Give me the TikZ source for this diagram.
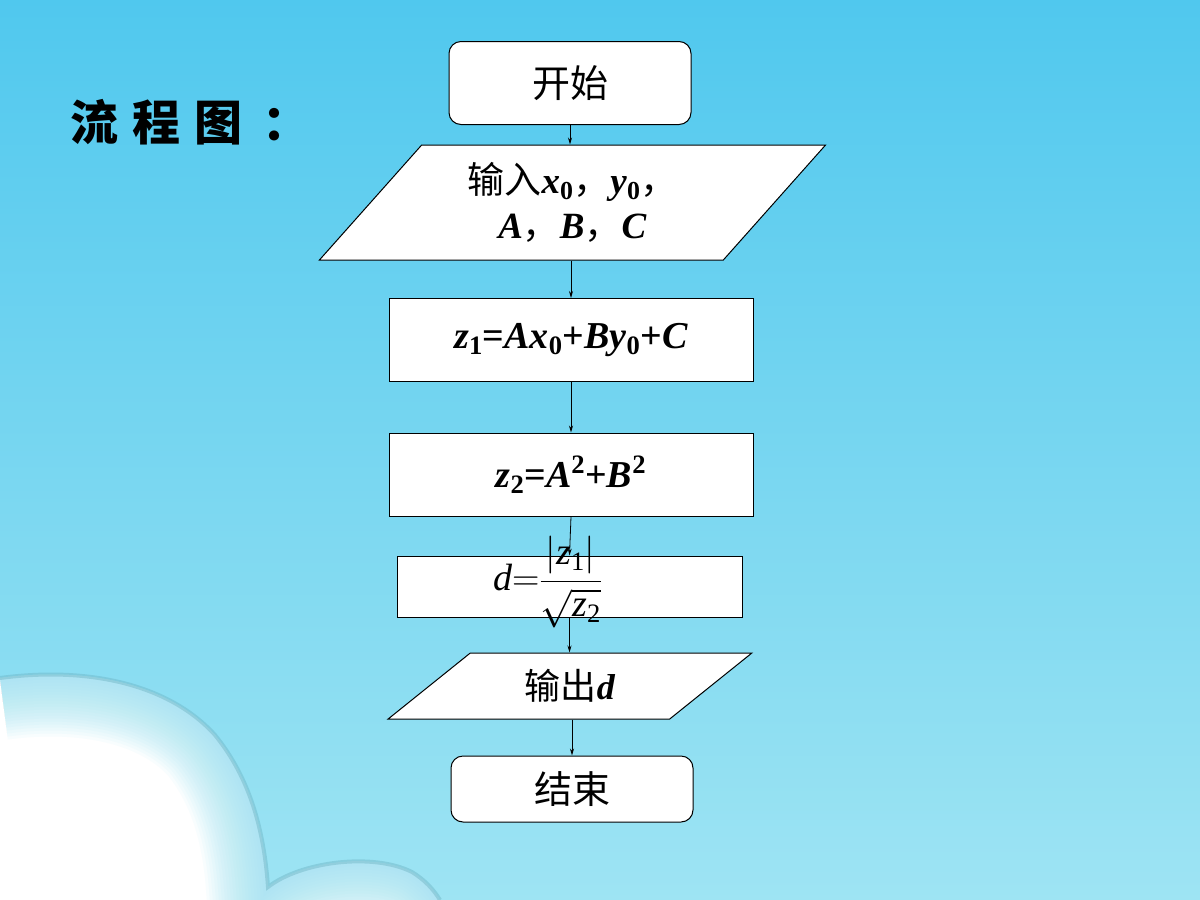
\RequirePackage{fix-cm}
\documentclass[tikz,border=0pt]{standalone}
\usepackage{amsmath}
\usepackage{fontspec}
\setmainfont{Liberation Serif}
\newfontfamily\cjk{Noto Sans CJK SC}
\usepackage{tikz}
\usetikzlibrary{shapes.geometric,arrows.meta}

\definecolor{skytop}{RGB}{80,200,238}
\definecolor{skybot}{RGB}{158,228,243}
\definecolor{cloudline}{RGB}{110,180,196}

\newcommand{\vbi}[1]{\textrm{\bfseries\itshape #1}}
\newcommand{\vlo}[1]{\textsubscript{\textrm{\bfseries\upshape #1}}}
\newcommand{\vhi}[1]{\textsuperscript{\textrm{\bfseries\upshape #1}}}

\tikzset{
  box/.style={draw=black, line width=1pt, fill=white, inner sep=0pt,
              minimum width=364pt, minimum height=83pt},
  term/.style={box, rounded corners=12pt, minimum width=242pt,
               font=\cjk\fontsize{38}{40}\selectfont},
  io/.style={box, trapezium, trapezium stretches=true},
  flow/.style={line width=0.8pt, -{Stealth[length=7pt,width=4pt]}},
}

\begin{document}
\begin{tikzpicture}[x=1pt, y=-1pt]
\useasboundingbox (0,0) rectangle (1200,900);
% background
\shade[top color=skytop, bottom color=skybot] (0,0) rectangle (1200,900);
% cloud
\path[save path=\cloudedge] (0,678) .. controls (90,666) and (170,685) .. (215,735)
  .. controls (250,778) and (264,830) .. (268,887)
  .. controls (300,862) and (372,852) .. (412,872)
  .. controls (425,880) and (434,890) .. (440,900);
\begin{scope}
\clip (0,678) .. controls (90,666) and (170,685) .. (215,735)
  .. controls (250,778) and (264,830) .. (268,887)
  .. controls (300,862) and (372,852) .. (412,872)
  .. controls (425,880) and (434,890) .. (440,900) -- (0,900) -- cycle;
\fill[white] (0,650) rectangle (450,900);
\foreach \w in {124,118,...,6}
  \draw[skybot, line width=\w pt, opacity=0.07, use path=\cloudedge];
\end{scope}
\draw[cloudline, line width=4pt, opacity=0.45, use path=\cloudedge];
% title
\node[anchor=west, inner sep=0pt] (title) at (70,122)
  {\cjk\bfseries\fontsize{48}{48}\selectfont 流\hspace{14pt}程\hspace{14pt}图\hspace{20pt}：};
% flow chart
\node[term] (start) at (570,83) {开始};
\node[io, trapezium left angle=48.4, trapezium right angle=131.6,
      minimum width=509pt, minimum height=115pt, align=center,
      font=\cjk\fontsize{37}{45}\selectfont] (in) at (572.5,202.5)
  {输入\vbi{x}\vlo{0}，\vbi{y}\vlo{0}，\\ \vbi{A}，\vbi{B}，\vbi{C}};
\node[box, font=\rmfamily\bfseries\fontsize{38}{40}\selectfont] (z1) at (571,340)
  {\vbi{z}\vlo{1}=\vbi{Ax}\vlo{0}+\vbi{By}\vlo{0}+\vbi{C}};
\node[box, font=\rmfamily\bfseries\fontsize{38}{40}\selectfont] (z2) at (571,474.5)
  {\vbi{z}\vlo{2}=\vbi{A}\vhi{2}+\vbi{B}\vhi{2}};
\node[box, minimum width=345pt, minimum height=61pt, text height=0pt, text depth=0pt,
      font=\fontsize{38}{42}\selectfont] (dd) at (569.5,586.5)
  {\makebox[0pt]{\raisebox{-4pt}{$\mathit{d}{=}\dfrac{|\mathit{z}_{\mathrm{1}}|}{\sqrt{\mathit{z}_{\mathrm{2}}}}$}\hspace{44pt}}};
\node[io, trapezium left angle=41.7, trapezium right angle=138.3,
      minimum width=364pt, minimum height=66pt,
      font=\cjk\fontsize{36}{40}\selectfont] (out) at (570,686) {输出\vbi{d}};
\node[term, minimum height=66pt] (stop) at (572,789) {结束};
% arrows
\draw[flow] (start.south) -- (start.south |- in.north);
\draw[flow] (z1.north |- in.south) -- (z1.north);
\draw[flow] (z1.south) -- (z2.north);
\draw[flow] (z2.south) -- (dd.north);
\draw[flow] (dd.south) -- (dd.south |- out.north);
\draw[flow] (stop.north |- out.south) -- (stop.north);
\end{tikzpicture}
\end{document}
